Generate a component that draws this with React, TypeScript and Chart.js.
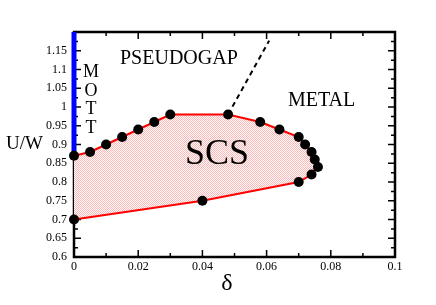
import React, { useEffect, useRef } from "react";
import { Chart, registerables } from "chart.js";

Chart.register(...registerables);

// Phase boundary of the SCS region (delta, U/W)
const boundaryDelta = [0, 0.005, 0.01, 0.015, 0.02, 0.025, 0.03, 0.048, 0.058, 0.064, 0.07, 0.072, 0.074, 0.075, 0.076, 0.074, 0.07, 0.04, 0];
const boundaryUW = [0.87, 0.88, 0.9, 0.92, 0.94, 0.96, 0.98, 0.98, 0.96, 0.94, 0.92, 0.9, 0.88, 0.86, 0.84, 0.82, 0.8, 0.75, 0.7];

// Pseudogap crossover (dashed)
const pseudogapDelta = [0.048, 0.0608];
const pseudogapUW = [0.98, 1.177];

// Mott line at delta = 0
const mottDelta = [0, 0];
const mottUW = [0.87, 1.2];

const xTickValues = [0, 0.02, 0.04, 0.06, 0.08, 0.1];
const xTickLabels = ["0", "0.02", "0.04", "0.06", "0.08", "0.1"];
const xMinorTicks = [0.01, 0.03, 0.05, 0.07, 0.09];
const yTickValues = [0.6, 0.65, 0.7, 0.75, 0.8, 0.85, 0.9, 0.95, 1, 1.05, 1.1, 1.15];
const yTickLabels = ["0.6", "0.65", "0.7", "0.75", "0.8", "0.85", "0.9", "0.95", "1", "1.05", "1.1", "1.15"];
const yMinorTicks = [0.625, 0.675, 0.725, 0.775, 0.825, 0.875, 0.925, 0.975, 1.025, 1.075, 1.125, 1.175];

const SERIF = "'Liberation Serif', 'Times New Roman', serif";

function makePattern(): CanvasPattern | string {
  const c = document.createElement("canvas");
  c.width = 2;
  c.height = 2;
  const g = c.getContext("2d");
  if (!g) return "rgba(255,180,180,0.5)";
  g.fillStyle = "#ffffff";
  g.fillRect(0, 0, 2, 2);
  g.fillStyle = "rgb(255,180,180)";
  g.fillRect(0, 0, 1, 1);
  g.fillRect(1, 1, 1, 1);
  const p = g.createPattern(c, "repeat");
  return p || "rgba(255,180,180,0.5)";
}

const framePlugin = {
  id: "frameTicks",
  beforeDatasetsDraw(chart: any) {
    const { ctx, chartArea: a, scales } = chart;
    const xs = scales.x;
    const ys = scales.y;
    ctx.save();
    ctx.strokeStyle = "#000";
    ctx.lineWidth = 1.5;
    ctx.beginPath();
    const tick = (vals: number[], len: number) => {
      vals.forEach((v) => {
        const px = xs.getPixelForValue(v);
        ctx.moveTo(px, a.bottom);
        ctx.lineTo(px, a.bottom - len);
        ctx.moveTo(px, a.top);
        ctx.lineTo(px, a.top + len);
      });
    };
    const ytick = (vals: number[], len: number) => {
      vals.forEach((v) => {
        const py = ys.getPixelForValue(v);
        ctx.moveTo(a.left, py);
        ctx.lineTo(a.left + len, py);
        ctx.moveTo(a.right, py);
        ctx.lineTo(a.right - len, py);
      });
    };
    tick(xTickValues, 7);
    tick(xMinorTicks, 4);
    ytick(yTickValues, 7);
    ytick(yMinorTicks, 4);
    ctx.stroke();
    ctx.lineWidth = 2.5;
    ctx.strokeRect(a.left, a.top, a.right - a.left, a.bottom - a.top);
    ctx.restore();
  },
  afterDatasetsDraw(chart: any) {
    const { ctx } = chart;
    ctx.save();
    ctx.fillStyle = "#000";
    ctx.textBaseline = "alphabetic";
    ctx.textAlign = "left";
    ctx.font = `20px ${SERIF}`;
    ctx.fillText("PSEUDOGAP", 120, 64);
    ctx.fillText("METAL", 288, 106);
    ctx.font = `19px ${SERIF}`;
    ctx.fillText("U/W", 6, 149);
    ctx.textAlign = "center";
    ctx.font = `18px ${SERIF}`;
    ["M", "O", "T", "T"].forEach((ch, i) => {
      ctx.fillText(ch, 91, 77 + i * 18.5);
    });
    ctx.font = `36px ${SERIF}`;
    ctx.fillText("SCS", 217, 164);
    ctx.font = `24px ${SERIF}`;
    ctx.fillText("δ", 227, 290);
    ctx.restore();
  },
};

export default function App() {
  const ref = useRef<HTMLCanvasElement | null>(null);
  useEffect(() => {
    if (!ref.current) return;
    const pattern = makePattern();
    const toPts = (xs: number[], ys: number[]) => xs.map((x, i) => ({ x, y: ys[i] }));
    const chart = new Chart(ref.current, {
      type: "line",
      data: {
        datasets: [
          {
            data: toPts(boundaryDelta, boundaryUW),
            borderColor: "rgb(255,0,0)",
            borderWidth: 2,
            backgroundColor: pattern as any,
            fill: "shape",
            pointRadius: 5,
            pointBorderWidth: 0,
            pointBackgroundColor: "#000",
            pointBorderColor: "#000",
            tension: 0,
            clip: false as any,
            order: 0,
          },
          {
            data: toPts(pseudogapDelta, pseudogapUW),
            borderColor: "#000",
            borderWidth: 2,
            borderDash: [5, 4],
            pointRadius: 0,
            fill: false,
            order: 1,
          },
          {
            data: toPts(mottDelta, mottUW),
            borderColor: "rgb(0,0,255)",
            borderWidth: 5,
            pointRadius: 0,
            fill: false,
            clip: false as any,
            order: 2,
          },
        ],
      },
      options: {
        animation: false,
        responsive: true,
        maintainAspectRatio: false,
        layout: { padding: { left: 0, top: 32, right: 41, bottom: 0 } },
        plugins: { legend: { display: false }, tooltip: { enabled: false } },
        scales: {
          x: {
            type: "linear",
            min: 0,
            max: 0.1,
            grid: { display: false, drawTicks: false },
            border: { display: false },
            afterBuildTicks: (s: any) => {
              s.ticks = xTickValues.map((v) => ({ value: v }));
            },
            afterFit: (s: any) => {
              s.height = 48;
            },
            ticks: {
              padding: 3,
              maxRotation: 0,
              autoSkip: false,
              color: "#000",
              font: { family: SERIF, size: 12 },
              callback: (_v: any, i: number) => xTickLabels[i],
            },
          },
          y: {
            type: "linear",
            min: 0.6,
            max: 1.2,
            grid: { display: false, drawTicks: false },
            border: { display: false },
            afterBuildTicks: (s: any) => {
              s.ticks = yTickValues.map((v) => ({ value: v }));
            },
            afterFit: (s: any) => {
              s.width = 74;
            },
            ticks: {
              padding: 7,
              autoSkip: false,
              color: "#000",
              font: { family: SERIF, size: 12 },
              callback: (_v: any, i: number) => yTickLabels[i],
            },
          },
        },
      },
      plugins: [framePlugin],
    });
    return () => chart.destroy();
  }, []);
  return (
    <div style={{ position: "absolute", left: 0, top: 0, width: 436, height: 305, background: "#fff" }}>
      <canvas ref={ref} />
    </div>
  );
}
